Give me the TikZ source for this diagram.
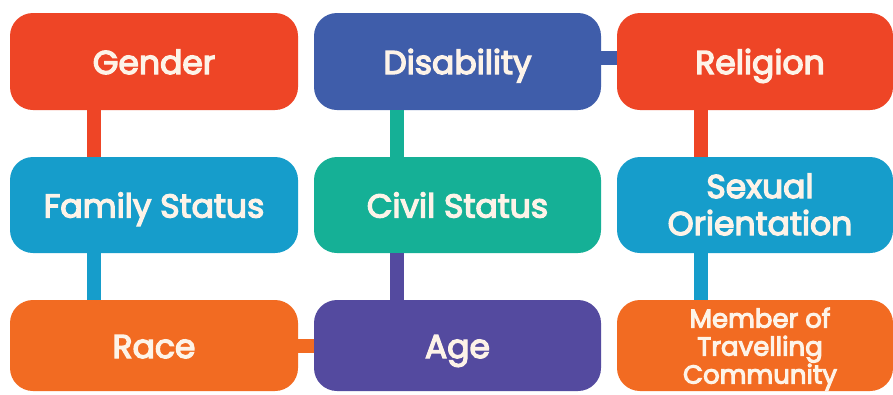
\documentclass[tikz,border=0pt]{standalone}
\usepackage{fontspec}
\setmainfont{Poppins}
\newfontfamily\cardfont{Poppins}[RawFeature={embolden=4}]
\definecolor{cRed}{HTML}{EE4526}
\definecolor{cBlue}{HTML}{3F5DAA}
\definecolor{cCyan}{HTML}{169DCB}
\definecolor{cTeal}{HTML}{15B096}
\definecolor{cOrange}{HTML}{F26B22}
\definecolor{cPurple}{HTML}{544A9F}
\definecolor{cText}{HTML}{FDF3E8}
\tikzset{
  card/.style={rounded corners=23pt, inner sep=0pt, align=center,
    text=cText, font=\cardfont\fontsize{33}{37}\selectfont},
  oneline/.style={text height=25pt, text depth=0pt},
  caption/.style={inner sep=0pt, align=center, text=cText,
    font=\cardfont\fontsize{33}{37}\selectfont},
  link/.style={line width=14pt, line cap=butt},
}
\begin{document}
\begin{tikzpicture}[x=1pt, y=-1pt]
  \useasboundingbox[fill=white] (0,0) rectangle (893,394);
  % row 1
  \node[card, oneline, fill=cRed,  minimum width=288pt, minimum height=97pt] (gender)     at (154,61.5)   {Gender};
  \node[card, oneline, fill=cBlue, minimum width=287pt, minimum height=97pt] (disability) at (457.5,61.5) {Disability};
  \node[card, fill=cRed,           minimum width=276pt, minimum height=97pt] (religion)   at (755,61.5)   {};
  \node[caption, text height=25pt, text depth=0pt] (religiontext) at (760,61.5) {Religion};
  % row 2
  \node[card, oneline, fill=cCyan, minimum width=288pt, minimum height=96pt] (family)     at (154,205)    {Family Status};
  \node[card, oneline, fill=cTeal, minimum width=287pt, minimum height=96pt] (civil)      at (457.5,205)  {Civil Status};
  \node[card, fill=cCyan,          minimum width=276pt, minimum height=96pt] (sexual)     at (755,205)    {};
  \node[caption] (sexualtext) at (760,204.5) {Sexual\\Orientation};
  % row 3
  \node[card, oneline, fill=cOrange, minimum width=288pt, minimum height=91pt] (race)   at (154,345.5)  {Race};
  \node[card, oneline, fill=cPurple, minimum width=287pt, minimum height=91pt] (age)    at (457.5,345.5){Age};
  \node[card, fill=cOrange,          minimum width=276pt, minimum height=91pt] (member) at (755,345.5)  {};
  \node[caption, font=\cardfont\fontsize{26}{28}\selectfont] (membertext) at (760,349)
    {Member of\\Travelling\\Community};
  % connectors
  \draw[link, cRed]    ([xshift=-60pt]gender.south)       -- ([xshift=-60pt]family.north);
  \draw[link, cCyan]   ([xshift=-60pt]family.south)       -- ([xshift=-60pt]race.north);
  \draw[link, cTeal]   ([xshift=-60.5pt]disability.south) -- ([xshift=-60.5pt]civil.north);
  \draw[link, cPurple] ([xshift=-60.5pt]civil.south)      -- ([xshift=-60.5pt]age.north);
  \draw[link, cRed]    ([xshift=-54pt]religion.south)     -- ([xshift=-54pt]sexual.north);
  \draw[link, cCyan]   ([xshift=-54pt]sexual.south)       -- ([xshift=-54pt]member.north);
  \draw[link, cBlue]   ([yshift=3.5pt]disability.east)    -- ([yshift=3.5pt]religion.west);
  \draw[link, cOrange] (race.east) -- (age.west);
\end{tikzpicture}
\end{document}
